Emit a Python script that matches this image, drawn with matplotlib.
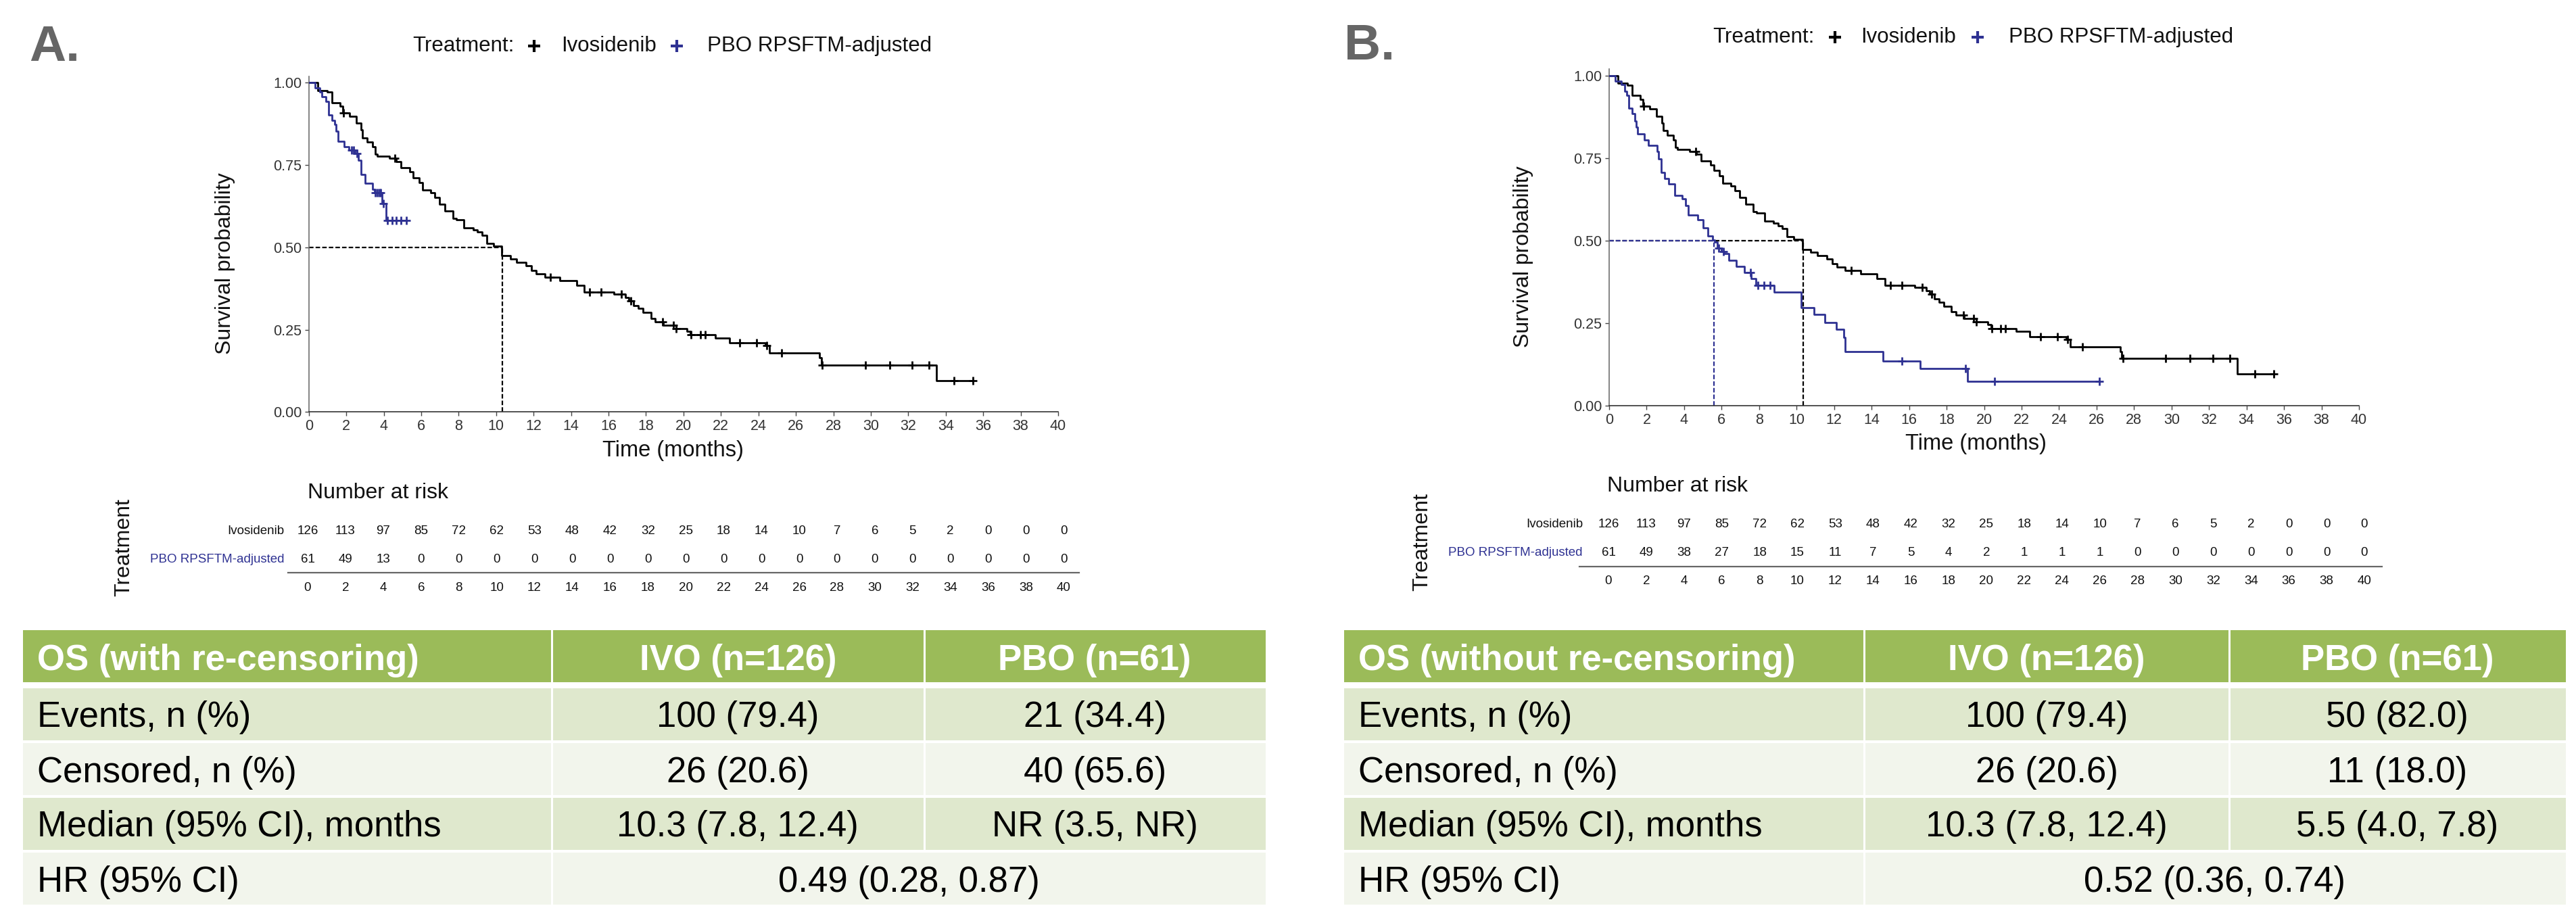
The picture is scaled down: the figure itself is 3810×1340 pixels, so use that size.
import numpy as np
import matplotlib
matplotlib.use("Agg")
import matplotlib.pyplot as plt
from matplotlib.patches import Rectangle
from matplotlib import transforms

plt.rcParams['font.family'] = ['Liberation Sans', 'DejaVu Sans']

W, H, DPI = 3810, 1340, 100

# ---------------------------------------------------------------- data
month_ticks = [0, 2, 4, 6, 8, 10, 12, 14, 16, 18, 20, 22, 24, 26, 28, 30, 32, 34, 36, 38, 40]
surv_ticks = [0.00, 0.25, 0.50, 0.75, 1.00]

# Ivosidenib KM (same in both panels): step times, survival after each step, censor times
ivo_time = [0.48, 0.99, 1.24, 1.66, 1.80, 2.18, 2.54, 2.80, 2.88, 3.10, 3.41, 3.53, 3.65,
            4.31, 4.67, 4.92, 5.40, 5.58, 5.88, 6.07, 6.50, 6.72, 6.96, 7.27, 7.69, 7.87,
            8.29, 8.77, 9.00, 9.25, 9.49, 9.86, 10.31, 10.76, 11.10, 11.60, 11.90, 12.15,
            12.60, 13.40, 14.30, 14.70, 16.30, 16.90, 17.10, 17.35, 17.60, 17.85, 18.26,
            18.50, 18.93, 19.60, 20.20, 20.37, 21.70, 22.45, 24.38, 24.60, 27.25, 27.35, 33.50]
ivo_surv = [0.976, 0.971, 0.939, 0.928, 0.908, 0.899, 0.877, 0.857, 0.833, 0.819, 0.805, 0.782, 0.777,
            0.771, 0.761, 0.741, 0.730, 0.712, 0.696, 0.674, 0.666, 0.652, 0.631, 0.611, 0.587, 0.584,
            0.560, 0.553, 0.546, 0.536, 0.512, 0.504, 0.474, 0.465, 0.455, 0.444, 0.430, 0.420,
            0.410, 0.399, 0.385, 0.365, 0.358, 0.348, 0.338, 0.324, 0.314, 0.302, 0.285,
            0.274, 0.264, 0.254, 0.246, 0.234, 0.225, 0.210, 0.201, 0.179, 0.164, 0.143, 0.096]
ivo_cens = [1.85, 4.60, 12.90, 15.00, 15.60, 16.70, 17.20, 18.90, 19.45, 19.60, 20.40, 20.90,
            21.15, 23.00, 23.90, 24.45, 25.25, 27.40, 29.70, 31.00, 32.20, 33.10, 34.45, 35.45]

# PBO RPSFTM-adjusted, with re-censoring (panel A)
pbo_rc_time = [0.35, 0.59, 0.71, 0.93, 1.05, 1.25, 1.37, 1.46, 1.55, 1.89, 2.15, 2.45, 2.66,
               2.80, 3.00, 3.42, 3.50, 3.90, 4.14]
pbo_rc_surv = [0.984, 0.971, 0.957, 0.944, 0.903, 0.886, 0.873, 0.853, 0.822, 0.805, 0.795, 0.785, 0.765,
               0.721, 0.695, 0.677, 0.665, 0.633, 0.582]
pbo_rc_cens = [2.28, 2.38, 2.58, 3.55, 3.65, 3.75, 3.85, 3.98, 4.20, 4.44, 4.68, 4.92, 5.22]

# PBO RPSFTM-adjusted, without re-censoring (panel B)
pbo_nc_time = [0.31, 0.64, 0.82, 0.94, 1.04, 1.24, 1.36, 1.45, 1.52, 1.88, 2.08, 2.57, 2.65,
               2.77, 2.96, 3.17, 3.50, 3.90, 4.07, 4.23, 4.73, 5.01, 5.25, 5.52, 5.64, 5.76,
               6.00, 6.12, 6.39, 6.78, 7.20, 7.57, 7.83, 8.80, 10.24, 10.94, 11.52, 12.12,
               12.50, 12.60, 14.60, 16.60, 19.10]
pbo_nc_surv = [0.983, 0.973, 0.952, 0.939, 0.901, 0.884, 0.863, 0.843, 0.823, 0.804, 0.788, 0.771, 0.747,
               0.706, 0.689, 0.672, 0.638, 0.626, 0.607, 0.577, 0.563, 0.539, 0.515, 0.502, 0.495, 0.478,
               0.468, 0.461, 0.440, 0.423, 0.404, 0.386, 0.365, 0.345, 0.297, 0.276, 0.253, 0.232,
               0.208, 0.164, 0.135, 0.113, 0.075]
pbo_nc_cens = [5.85, 6.10, 7.55, 7.95, 8.25, 8.60, 15.60, 19.00, 20.55, 26.15]

median_ivo = 10.35
median_pbo_nc = 5.6

# Number at risk
risk_ivo = [126, 113, 97, 85, 72, 62, 53, 48, 42, 32, 25, 18, 14, 10, 7, 6, 5, 2, 0, 0, 0]
risk_pbo_rc = [61, 49, 13, 0, 0, 0, 0, 0, 0, 0, 0, 0, 0, 0, 0, 0, 0, 0, 0, 0, 0]
risk_pbo_nc = [61, 49, 38, 27, 18, 15, 11, 7, 5, 4, 2, 1, 1, 1, 0, 0, 0, 0, 0, 0, 0]

# Summary tables
row_labels = ["Events, n (%)", "Censored, n (%)", "Median (95% CI), months", "HR (95% CI)"]
tab_a_header = ["OS (with re-censoring)", "IVO (n=126)", "PBO (n=61)"]
tab_a_ivo = ["100 (79.4)", "26 (20.6)", "10.3 (7.8, 12.4)"]
tab_a_pbo = ["21 (34.4)", "40 (65.6)", "NR (3.5, NR)"]
tab_a_hr = "0.49 (0.28, 0.87)"
tab_b_header = ["OS (without re-censoring)", "IVO (n=126)", "PBO (n=61)"]
tab_b_ivo = ["100 (79.4)", "26 (20.6)", "10.3 (7.8, 12.4)"]
tab_b_pbo = ["50 (82.0)", "11 (18.0)", "5.5 (4.0, 7.8)"]
tab_b_hr = "0.52 (0.36, 0.74)"

# ---------------------------------------------------------------- style
BLACK = '#000000'
BLUE = '#2E3192'
GREEN = '#9BBB59'
BAND1 = '#DFE8CD'
BAND2 = '#F2F5EC'
TICKC = '#333333'

fig = plt.figure(figsize=(W / DPI, H / DPI), dpi=DPI)
ov = fig.add_axes([0, 0, 1, 1])
ov.set_xlim(0, W)
ov.set_ylim(H, 0)
ov.axis('off')


def rect(x0, yt, x1, yb):
    return [x0 / W, 1 - yb / H, (x1 - x0) / W, (yb - yt) / H]


def surv_at(times, survs, t):
    t = np.asarray(t)
    idx = np.searchsorted(times, t, side='right') - 1
    s = np.asarray(survs)[np.clip(idx, 0, None)]
    return np.where(idx >= 0, s, 1.0)


def draw_km(r, pbo_t, pbo_s, pbo_c, medians):
    ax = fig.add_axes(rect(*r))
    ax.patch.set_alpha(0)
    ax.set_xlim(0, 40)
    ax.set_ylim(0, 1.02)
    for med, col in medians:
        ax.plot([0, med], [0.5, 0.5], color=col, lw=1.6, ls=(0, (3.0, 1.4)), zorder=2)
        ax.plot([med, med], [0, 0.5], color=col, lw=1.6, ls=(0, (3.0, 1.4)), zorder=2)
    for times, survs, cens, col in [(ivo_time, ivo_surv, ivo_cens, BLACK),
                                    (pbo_t, pbo_s, pbo_c, BLUE)]:
        end = max(max(cens), max(times))
        xs = [0.0] + list(times) + [end]
        ys = [1.0] + list(survs) + [survs[-1]]
        ax.step(xs, ys, where='post', color=col, lw=2.0, zorder=3)
        ax.plot(cens, surv_at(times, survs, cens), ls='none', marker='+', ms=9, mew=2.0,
                color=col, zorder=4)
    for s in ['top', 'right']:
        ax.spines[s].set_visible(False)
    ax.spines['left'].set_color('#6e6e6e')
    ax.spines['bottom'].set_color('#333333')
    ax.spines['left'].set_linewidth(1.2)
    ax.spines['bottom'].set_linewidth(1.2)
    ax.set_xticks(month_ticks)
    ax.set_xticklabels([str(m) for m in month_ticks])
    ax.set_yticks(surv_ticks)
    ax.set_yticklabels([f'{v:.2f}' for v in surv_ticks])
    ax.tick_params(length=4, width=1, color='#444444', labelsize=15.5, labelcolor=TICKC, pad=3.5)
    return ax


def draw_legend(x_treat, x_p1, x_ivo, x_p2, x_pbo, y):
    ov.text(x_treat, y, 'Treatment:', ha='left', va='center', fontsize=22.5, color='#111111')
    ov.plot([x_p1], [y], marker='+', ms=13, mew=3, color=BLACK)
    ov.text(x_ivo, y, 'Ivosidenib', ha='left', va='center', fontsize=22.5, color='#111111')
    ov.plot([x_p2], [y], marker='+', ms=13, mew=3, color=BLUE)
    ov.text(x_pbo, y, 'PBO RPSFTM-adjusted', ha='left', va='center', fontsize=22.5, color='#111111')


def draw_risk(x0, x1, lab_right, y_ivo, y_pbo, y_line, lx0, lx1, y_tick, pbo_risk,
              title_xy, treat_xy):
    rax = fig.add_axes(rect(x0, 690, x1, 700))
    rax.set_xlim(0, 40)
    rax.axis('off')
    tr = transforms.blended_transform_factory(rax.transData, ov.transData)
    for t, n in zip(month_ticks, risk_ivo):
        rax.text(t, y_ivo, str(n), transform=tr, ha='center', va='center', fontsize=13.5, color='#111111')
    for t, n in zip(month_ticks, pbo_risk):
        rax.text(t, y_pbo, str(n), transform=tr, ha='center', va='center', fontsize=13.5, color='#111111')
    for t in month_ticks:
        rax.text(t, y_tick, str(t), transform=tr, ha='center', va='center', fontsize=13.5, color='#111111')
    ov.text(lab_right, y_ivo, 'Ivosidenib', ha='right', va='center', fontsize=13.5, color='#111111')
    ov.text(lab_right, y_pbo, 'PBO RPSFTM-adjusted', ha='right', va='center', fontsize=13.5, color=BLUE)
    ov.plot([lx0, lx1], [y_line, y_line], color='#666666', lw=1.6)
    ov.text(title_xy[0], title_xy[1], 'Number at risk', ha='left', va='center', fontsize=23, color='#111111')
    ov.text(treat_xy[0], treat_xy[1], 'Treatment', rotation=90, ha='center', va='center',
            fontsize=23, color='#111111')


def draw_table(x0, x1, c1, c2, header, ivo_vals, pbo_vals, hr):
    fs = 38
    ov.add_patch(Rectangle((x0, 932), x1 - x0, 77, facecolor=GREEN, edgecolor='none'))
    tops = [1018, 1099, 1180, 1261]
    for i, top in enumerate(tops):
        ov.add_patch(Rectangle((x0, top), x1 - x0, 77, facecolor=BAND1 if i % 2 == 0 else BAND2,
                               edgecolor='none'))
    ov.plot([c1, c1], [932, 1338], color='white', lw=2.2)
    ov.plot([c2, c2], [932, 1257], color='white', lw=2.2)
    pad = 21
    ov.text(x0 + pad, 991, header[0], ha='left', va='baseline', fontsize=fs, fontweight='bold', color='white')
    ov.text((c1 + c2) / 2, 991, header[1], ha='center', va='baseline', fontsize=fs, fontweight='bold', color='white')
    ov.text((c2 + x1) / 2, 991, header[2], ha='center', va='baseline', fontsize=fs, fontweight='bold', color='white')
    for i, top in enumerate(tops):
        yb = top + 38.5 + 19
        ov.text(x0 + pad, yb, row_labels[i], ha='left', va='baseline', fontsize=fs, color='black')
        if i < 3:
            ov.text((c1 + c2) / 2, yb, ivo_vals[i], ha='center', va='baseline', fontsize=fs, color='black')
            ov.text((c2 + x1) / 2, yb, pbo_vals[i], ha='center', va='baseline', fontsize=fs, color='black')
        else:
            ov.text((c1 + x1) / 2, yb, hr, ha='center', va='baseline', fontsize=fs, color='black')


# ---------------------------------------------------------------- panel A
ov.text(43, 90, 'A.', ha='left', va='baseline', fontsize=54, fontweight='bold', color='#666666')
draw_legend(610, 790, 830, 1001, 1046, 68)
axA = draw_km((456.7, 112.6, 1565, 609.3), pbo_rc_time, pbo_rc_surv, pbo_rc_cens,
              [(median_ivo, BLACK)])
ov.text(333, 390, 'Survival probability', rotation=90, ha='center', va='center', fontsize=23, color='#111111')
ov.text(995, 667, 'Time (months)', ha='center', va='center', fontsize=23.5, color='#111111')
draw_risk(455, 1573.5, 420, 785, 827, 846.5, 426, 1596, 869, risk_pbo_rc, (455, 729), (183, 810))
draw_table(34, 1872, 816, 1366.5, tab_a_header, tab_a_ivo, tab_a_pbo, tab_a_hr)

# ---------------------------------------------------------------- panel B
ov.text(1988, 88, 'B.', ha='left', va='baseline', fontsize=54, fontweight='bold', color='#666666')
draw_legend(2533, 2714, 2752, 2925, 2971, 55)
axB = draw_km((2380, 101.9, 3489, 600.3), pbo_nc_time, pbo_nc_surv, pbo_nc_cens,
              [(median_ivo, BLACK), (median_pbo_nc, BLUE)])
ov.text(2253, 380, 'Survival probability', rotation=90, ha='center', va='center', fontsize=23, color='#111111')
ov.text(2922, 657, 'Time (months)', ha='center', va='center', fontsize=23.5, color='#111111')
draw_risk(2379, 3497, 2341, 775.4, 817.6, 838, 2335.6, 3523, 860, risk_pbo_nc, (2377, 719), (2103, 802))
draw_table(1988, 3794.5, 2757, 3297, tab_b_header, tab_b_ivo, tab_b_pbo, tab_b_hr)

fig.savefig('out.png', dpi=DPI)
